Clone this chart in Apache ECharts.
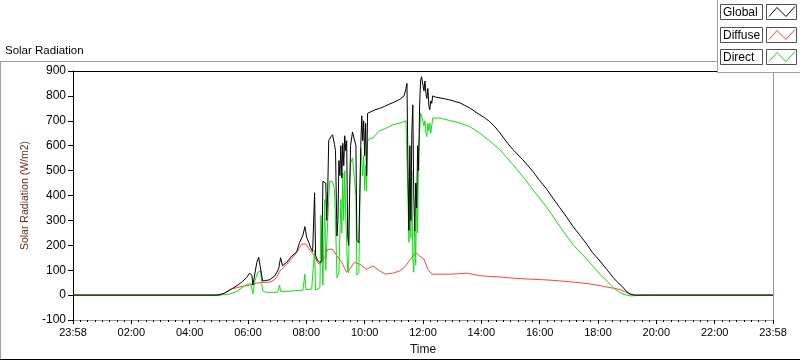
<!DOCTYPE html>
<html>
<head>
<meta charset="utf-8">
<script src="https://cdn.jsdelivr.net/npm/echarts@6/dist/echarts.min.js"></script>
<style>
html,body{margin:0;padding:0;background:#ffffff;}
#chart{width:800px;height:361px;}
</style>
</head>
<body>
<div id="chart"></div>
<script>
// ---------- DATA (time in minutes since midnight, values in W/m2) ----------
const timeTickLabels = ['23:58','02:00','04:00','06:00','08:00','10:00','12:00','14:00','16:00','18:00','20:00','22:00','23:58'];
const yTickValues = [-100,0,100,200,300,400,500,600,700,800,900];
const seriesNames = ['Global','Diffuse','Direct'];

const globalMinutes = [
  0, 298, 312, 328, 339, 349, 357, 363, 368, 370,
  374, 378, 382, 386, 390, 396, 405, 415, 423, 427,
  431, 440, 450, 460, 466, 473, 477, 481, 485, 489,
  493, 495, 497, 499, 503, 508, 512, 514, 520, 522,
  524, 526, 530, 534, 538, 540, 543, 545, 547, 549,
  551, 553, 555, 557, 559, 561, 563, 565, 567, 571,
  575, 579, 582, 584, 588, 592, 594, 596, 598, 600,
  602, 604, 606, 610, 621, 631, 641, 652, 662, 672,
  681, 685, 687, 689, 691, 693, 695, 697, 699, 701,
  703, 705, 707, 709, 711, 713, 715, 717, 719, 722,
  724, 726, 728, 730, 732, 734, 736, 738, 740, 746,
  755, 765, 775, 785, 796, 806, 816, 827, 837, 847,
  857, 868, 878, 892, 905, 925, 946, 960, 975, 987,
  1001, 1016, 1028, 1043, 1057, 1069, 1084, 1098, 1111, 1121,
  1131, 1139, 1146, 1154, 1440
];
const globalValues = [
  0, 0, 8, 27, 40, 55, 70, 88, 80, 40,
  45, 130, 152, 150, 57, 58, 62, 77, 105, 150,
  118, 132, 157, 173, 211, 240, 275, 230, 212, 190,
  175, 180, 411, 160, 140, 130, 140, 457, 450, 300,
  420, 620, 635, 644, 604, 580, 237, 300, 540, 480,
  600, 470, 610, 520, 640, 580, 620, 240, 200, 600,
  655, 662, 600, 220, 210, 600, 720, 620, 700, 560,
  690, 480, 730, 738, 744, 750, 758, 768, 776, 786,
  800, 830, 850, 520, 260, 600, 300, 650, 764, 400,
  257, 450, 350, 600, 500, 760, 860, 877, 870, 820,
  860, 810, 790, 830, 760, 745, 780, 770, 800, 795,
  792, 788, 784, 778, 772, 762, 752, 737, 724, 712,
  697, 676, 652, 615, 584, 544, 497, 460, 424, 390,
  352, 312, 277, 240, 204, 170, 137, 103, 71, 50,
  32, 14, 4, 0, 0
];

const diffuseMinutes = [
  0, 300, 306, 318, 326, 339, 353, 363, 378, 390,
  405, 413, 419, 425, 429, 440, 450, 460, 466, 471,
  475, 479, 483, 491, 497, 503, 508, 514, 518, 524,
  534, 543, 553, 563, 569, 579, 590, 604, 617, 631,
  643, 658, 672, 681, 687, 697, 705, 713, 722, 730,
  738, 755, 775, 796, 810, 827, 837, 857, 878, 905,
  940, 975, 1008, 1036, 1063, 1078, 1094, 1111, 1125, 1135,
  1146, 1154, 1440
];
const diffuseValues = [
  0, 0, 2, 15, 24, 31, 37, 40, 48, 51,
  52, 60, 71, 95, 104, 124, 147, 171, 191, 205,
  213, 205, 197, 171, 157, 130, 124, 140, 152, 184,
  184, 157, 131, 91, 104, 131, 124, 104, 117, 97,
  84, 88, 97, 110, 124, 151, 171, 157, 144, 104,
  84, 84, 84, 86, 88, 82, 78, 75, 73, 68,
  64, 61, 56, 51, 45, 40, 34, 28, 22, 14,
  4, 0, 0
];

const directMinutes = [
  0, 298, 312, 322, 333, 339, 347, 359, 366, 370,
  374, 380, 386, 390, 396, 409, 421, 425, 427, 442,
  458, 473, 477, 479, 491, 495, 497, 499, 503, 508,
  510, 512, 514, 518, 520, 524, 528, 534, 538, 540,
  543, 547, 551, 553, 555, 557, 559, 561, 565, 567,
  569, 571, 575, 579, 582, 584, 588, 592, 594, 596,
  598, 600, 602, 604, 606, 610, 617, 623, 631, 645,
  658, 672, 685, 687, 689, 691, 693, 695, 697, 699,
  701, 703, 705, 707, 709, 711, 713, 715, 717, 719,
  722, 724, 726, 728, 730, 732, 734, 736, 740, 755,
  775, 796, 816, 837, 857, 878, 905, 925, 946, 975,
  1001, 1028, 1057, 1084, 1111, 1121, 1131, 1146, 1162, 1170,
  1440
];
const directValues = [
  0, 0, 2, 4, 12, 17, 29, 44, 45, 5,
  57, 91, 97, 17, 12, 11, 12, 40, 15, 15,
  18, 20, 84, 22, 24, 25, 180, 20, 22, 30,
  320, 200, 40, 384, 100, 300, 457, 455, 424, 300,
  70, 90, 384, 250, 490, 300, 500, 330, 100, 90,
  450, 530, 551, 545, 400, 80, 90, 590, 597, 480,
  560, 420, 520, 417, 617, 630, 630, 645, 660, 671,
  684, 691, 700, 704, 397, 212, 420, 230, 500, 150,
  92, 300, 120, 450, 250, 600, 650, 731, 720, 717,
  680, 700, 650, 637, 690, 660, 690, 650, 711, 711,
  701, 691, 677, 650, 620, 584, 524, 477, 424, 352,
  277, 204, 144, 84, 31, 15, 4, -3, -2, 0,
  0
];

// ---------- STYLE ----------
const FONT = '"Liberation Sans", Arial, sans-serif';
const colors = { Global: '#000000', Diffuse: '#ff4040', Direct: '#10e010' };

function pairs(xs, ys) { return xs.map((x, i) => [x, ys[i]]); }

const chart = echarts.init(document.getElementById('chart'), null, { renderer: 'canvas' });

// legend drawn as graphic boxes (LabVIEW-style plot legend)
const legendGraphics = [
  { type: 'rect', shape: { x: 717, y: -1, width: 84, height: 73 }, style: { fill: '#ffffff', stroke: null }, z: 100 },
  { type: 'line', shape: { x1: 717.5, y1: 0, x2: 717.5, y2: 72 }, style: { stroke: '#a0a0a0', lineWidth: 1 }, z: 101 },
  { type: 'line', shape: { x1: 717, y1: 72.5, x2: 800, y2: 72.5 }, style: { stroke: '#a0a0a0', lineWidth: 1 }, z: 101 }
];
seriesNames.forEach((name, i) => {
  const y0 = 4 + Math.round(i * 22.67);
  legendGraphics.push(
    { type: 'rect', shape: { x: 720.5, y: y0 + 0.5, width: 42, height: 15 }, style: { fill: '#ffffff', stroke: '#505050', lineWidth: 1 }, z: 102 },
    { type: 'text', style: { x: 723, y: y0 + 8.5, text: name, font: '12px ' + FONT, fill: '#000', textVerticalAlign: 'middle' }, z: 103 },
    { type: 'rect', shape: { x: 766.5, y: y0 + 0.5, width: 30, height: 15 }, style: { fill: '#ffffff', stroke: '#505050', lineWidth: 1 }, z: 102 },
    { type: 'polyline', shape: { points: [[769, y0 + 12.5], [777, y0 + 3.5], [786, y0 + 12.5], [795, y0 + 2.5]] }, style: { stroke: colors[name], lineWidth: 1, fill: null }, z: 103 }
  );
});

const frameGraphics = [
  { type: 'line', shape: { x1: 0, y1: 61.5, x2: 717, y2: 61.5 }, style: { stroke: '#a0a0a0', lineWidth: 1 }, z: 95 },
  { type: 'line', shape: { x1: 0.5, y1: 61, x2: 0.5, y2: 360 }, style: { stroke: '#a0a0a0', lineWidth: 1 }, z: 95 },
  { type: 'line', shape: { x1: 0, y1: 359.5, x2: 800, y2: 359.5 }, style: { stroke: '#000000', lineWidth: 1 }, z: 95 },
  { type: 'text', style: { x: 5, y: 51, text: 'Solar Radiation', font: '11.5px ' + FONT, fill: '#000', textVerticalAlign: 'middle' }, z: 95 }
];

const option = {
  animation: false,
  backgroundColor: '#ffffff',
  textStyle: { fontFamily: FONT },
  grid: { left: 73, right: 27, top: 71, bottom: 40, containLabel: false },
  xAxis: [
    {
      type: 'value', min: 0, max: 1440, interval: 120, position: 'bottom',
      axisLine: { show: true, onZero: false, lineStyle: { color: '#9a9a9a', width: 1 } },
      axisTick: { show: true, length: 4, lineStyle: { color: '#000' } },
      minorTick: { show: true, splitNumber: 8, length: 2, lineStyle: { color: '#000' } },
      splitLine: { show: false },
      axisLabel: {
        show: true, fontSize: 11, color: '#000', margin: 7, fontFamily: FONT,
        formatter: v => timeTickLabels[Math.round(v / 120)] || ''
      },
      name: 'Time', nameLocation: 'middle', nameGap: 24,
      nameTextStyle: { fontSize: 12, color: '#111', fontFamily: FONT }
    },
    {
      type: 'value', min: 0, max: 1440, position: 'top',
      axisLine: { show: true, onZero: false, lineStyle: { color: '#000', width: 1 } },
      axisTick: { show: false }, axisLabel: { show: false }, splitLine: { show: false }
    }
  ],
  yAxis: [
    {
      type: 'value', min: yTickValues[0], max: yTickValues[yTickValues.length - 1], interval: 100, position: 'left',
      axisLine: { show: true, onZero: false, lineStyle: { color: '#000', width: 1 } },
      axisTick: { show: true, length: 5, lineStyle: { color: '#000' } },
      splitLine: { show: false },
      axisLabel: { fontSize: 12, color: '#000', margin: 7, fontFamily: FONT },
      name: 'Solar Radiation (W/m2)', nameLocation: 'middle', nameGap: 34,
      nameTextStyle: { fontSize: 10.5, color: '#6e2c12', fontFamily: FONT }
    },
    {
      type: 'value', min: -100, max: 900, position: 'right',
      axisLine: { show: true, onZero: false, lineStyle: { color: '#9a9a9a', width: 1 } },
      axisTick: { show: false }, axisLabel: { show: false }, splitLine: { show: false }
    }
  ],
  series: [
    { name: 'Diffuse', type: 'line', data: pairs(diffuseMinutes, diffuseValues), showSymbol: false, symbol: 'none', silent: true,
      lineStyle: { color: colors.Diffuse, width: 1 }, itemStyle: { color: colors.Diffuse }, z: 2 },
    { name: 'Direct', type: 'line', data: pairs(directMinutes, directValues), showSymbol: false, symbol: 'none', silent: true,
      lineStyle: { color: colors.Direct, width: 1 }, itemStyle: { color: colors.Direct }, z: 3 },
    { name: 'Global', type: 'line', data: pairs(globalMinutes, globalValues), showSymbol: false, symbol: 'none', silent: true,
      lineStyle: { color: colors.Global, width: 1 }, itemStyle: { color: colors.Global }, z: 4 }
  ],
  graphic: frameGraphics.concat(legendGraphics)
};
chart.setOption(option);
</script>
</body>
</html>
